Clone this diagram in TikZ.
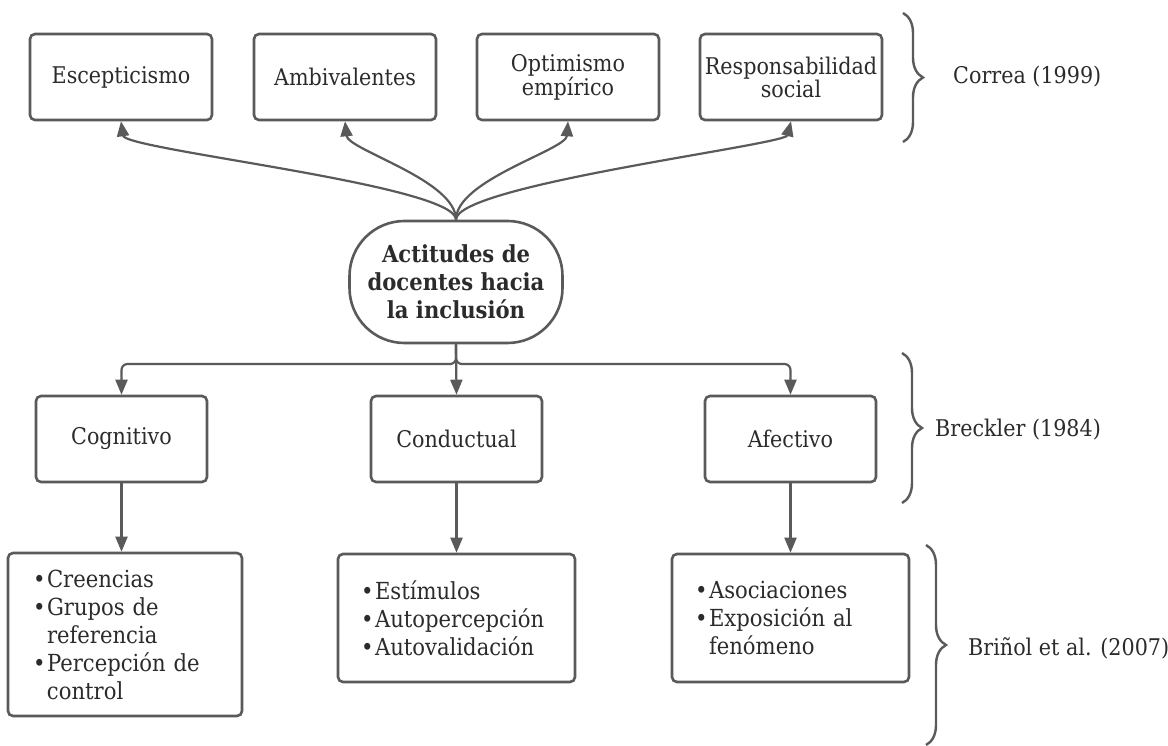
\documentclass[tikz,border=0pt]{standalone}
\usepackage{fontspec}
\setmainfont{DejaVu Serif}[FakeStretch=0.9, BoldFeatures={FakeStretch=0.9}]
\usetikzlibrary{arrows.meta,decorations.pathreplacing,calc}
\definecolor{edge}{HTML}{5A5A5A}
\definecolor{ink}{HTML}{2B2B2B}
\newcommand{\bli}[1]{\makebox[14pt][l]{•}#1}
\newcommand{\cnt}[1]{\hspace*{14pt}#1}
\tikzset{
 box/.style={draw=edge, line width=2.6pt, rounded corners=5pt, fill=white, text=ink, align=center, inner sep=0pt, font=\fontsize{23}{23}\selectfont},
 topbox/.style={box, minimum width=182pt, minimum height=86pt},
 midbox/.style={box, minimum width=171pt, minimum height=86pt},
 listbox/.style={box, align=left, inner xsep=24pt, font=\fontsize{23.5}{28}\selectfont},
 arr/.style={draw=edge, line width=2.2pt, -{Triangle[length=15pt,width=12pt]}},
 bracestyle/.style={draw=edge, line width=2.4pt, decorate, decoration={brace, amplitude=20pt}},
 reftext/.style={text=ink, anchor=west, font=\fontsize{23}{23}\selectfont, inner sep=0pt},
}
\begin{document}
\begin{tikzpicture}[x=1pt,y=-1pt]
\fill[white] (0,0) rectangle (1168,746);
\useasboundingbox (0,0) rectangle (1168,746);

% top row
\node[topbox] (e1) at (121,77) {Escepticismo};
\node[topbox] (e2) at (345,77) {Ambivalentes};
\node[topbox] (e3) at (568,77) {Optimismo\\empírico};
\node[topbox] (e4) at (791,77) {Responsabilidad\\social};

% central
\node[draw=edge, line width=2.6pt, rounded corners=55pt, minimum width=213pt, minimum height=122pt, align=center, text=ink, inner sep=0pt, font=\bfseries\fontsize{23.5}{28}\selectfont] (c) at (456,282) {Actitudes de\\docentes hacia\\la inclusión};

\draw[arr] (c.north) .. controls (456,185) and (125,150) .. (e1.south);
\draw[arr] (c.north) .. controls (456,180) and (348,150) .. (e2.south);
\draw[arr] (c.north) .. controls (456,180) and (566,150) .. (e3.south);
\draw[arr] (c.north) .. controls (456,185) and (785,145) .. (e4.south);

% middle row
\node[midbox] (cog) at (121.5,439) {Cognitivo};
\node[midbox] (con) at (456.5,439) {Conductual};
\node[midbox] (afe) at (790.5,439) {Afectivo};

\coordinate (j) at (456,364);
\draw[arr] (c.south) -- (con.north);
\draw[arr, rounded corners=6pt] (c.south) -- (j) -| (cog.north);
\draw[arr, rounded corners=6pt] (c.south) -- (j) -| (afe.north);

% bottom row
\node[listbox, inner xsep=25pt, text width=184pt, minimum height=163pt] (cb) at (125,634.5)
 {\bli{Creencias}\\\bli{Grupos de}\\\cnt{referencia}\\\bli{Percepción de}\\\cnt{control}};
\node[listbox, inner xsep=23pt, text width=191pt, minimum height=128pt] (nb) at (456.5,618)
 {\bli{Estímulos}\\\bli{Autopercepción}\\\bli{Autovalidación}};
\node[listbox, inner xsep=23pt, text width=191pt, minimum height=128pt] (ab) at (790.5,618)
 {\bli{Asociaciones}\\\bli{Exposición al}\\\cnt{fenómeno}};

\draw[arr] (cog.south) -- (cog.south |- cb.north);
\draw[arr] (con.south) -- (nb.north);
\draw[arr] (afe.south) -- (ab.north);

% braces and references
\draw[bracestyle] (903,13) -- (903,142);
\draw[bracestyle] (902,353) -- (902,503);
\draw[bracestyle] (926,545) -- (926,745);
\node[reftext] (r1) at (953,77) {Correa (1999)};
\node[reftext] (r2) at (935,430) {Breckler (1984)};
\node[reftext] (r3) at (968,648) {Briñol et al. (2007)};
\end{tikzpicture}
\end{document}
